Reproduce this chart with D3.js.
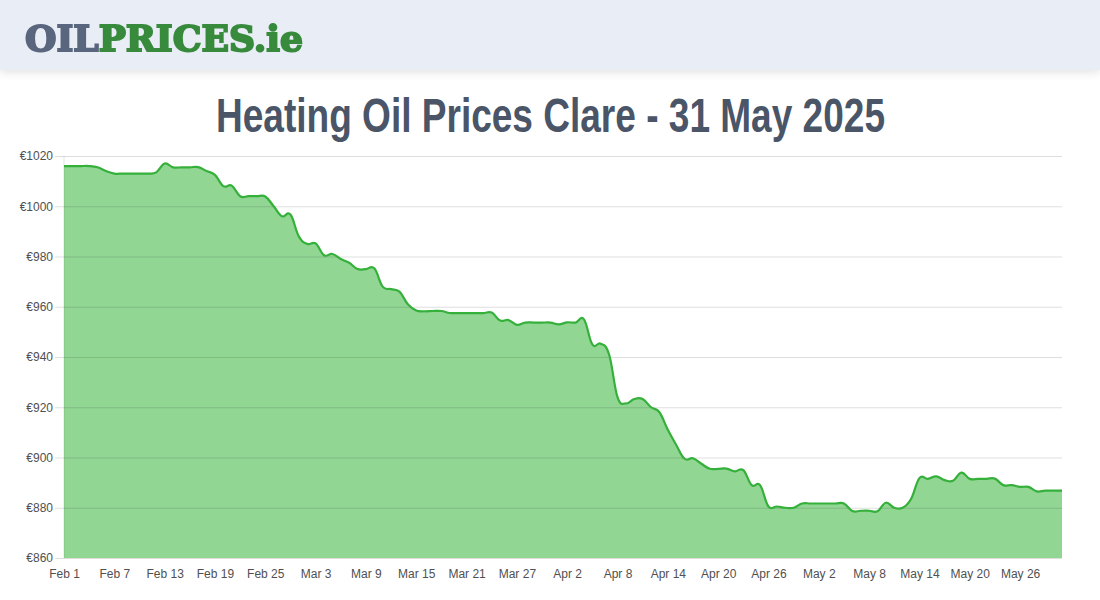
<!DOCTYPE html>
<html><head><meta charset="utf-8">
<script src="https://cdnjs.cloudflare.com/ajax/libs/d3/7.8.5/d3.min.js"></script>
<style>
html,body{margin:0;padding:0;background:#fff;overflow:hidden}
svg{display:block}
</style></head><body>
<svg id="c" width="1100" height="600"></svg>
<script>
const titleText = "Heating Oil Prices Clare - 31 May 2025";
const logoParts = ["OIL", "PRICES", ".ie"];
const yTicks = [860, 880, 900, 920, 940, 960, 980, 1000, 1020];
const xTickLabels = ["Feb 1","Feb 7","Feb 13","Feb 19","Feb 25","Mar 3","Mar 9","Mar 15","Mar 21","Mar 27","Apr 2","Apr 8","Apr 14","Apr 20","Apr 26","May 2","May 8","May 14","May 20","May 26"];
const xTickStepDays = 6;
const prices = [
 1016,1016,1016,1016,1015.5,1014,1013,1013,1013,1013,
 1013,1013.5,1017,1015.5,1015.5,1015.5,1015.6,1014,1012.5,1008,
 1008.2,1004,1004,1004,1003.9,1000,996,996.7,988,985,
 985.2,980.5,981,979,977.5,975,975,975.3,968,967,
 966,961,958.5,958.2,958.3,958.3,957.5,957.5,957.5,957.5,
 957.5,957.7,954.5,954.7,952.8,953.7,953.7,953.7,953.7,953,
 953.8,953.7,955,945,945.3,941,924,921.5,923.3,923.3,
 920,918,911,905,899.5,899.7,897.5,895.5,895.5,895.6,
 894.5,895,889,889,880.5,880.5,880,880,881.7,881.7,
 881.7,881.7,881.7,881.7,878.7,878.8,878.8,878.6,882,880,
 880,883.5,891.8,891.5,892.5,891,890.7,894,891.5,891.5,
 891.5,891.6,889,889,888.3,888.3,886.5,886.8,886.8,886.8
];

const svg = d3.select("#c");
const defs = svg.append("defs");
const shadow = defs.append("filter").attr("id","hs").attr("x","-5%").attr("y","-20%").attr("width","110%").attr("height","150%");
shadow.append("feDropShadow").attr("dx",0).attr("dy",3).attr("stdDeviation",4).attr("flood-color","#000").attr("flood-opacity",0.1);
const soft = defs.append("filter").attr("id","soft");
soft.append("feGaussianBlur").attr("stdDeviation",0.6);

svg.append("rect").attr("width",1100).attr("height",70).attr("fill","#e9edf5").attr("filter","url(#hs)");

const logo = svg.append("text").attr("x",25).attr("y",51)
  .attr("font-family","'DejaVu Serif'").attr("font-weight",700).attr("font-size",36)
  .attr("stroke-width",2).attr("filter","url(#soft)")
  .attr("textLength",278).attr("lengthAdjust","spacingAndGlyphs");
const logoColors = ["#5a667d","#378a3c","#378a3c"];
logo.selectAll("tspan").data(logoParts).join("tspan")
  .attr("fill",(d,i)=>logoColors[i]).attr("stroke",(d,i)=>logoColors[i]).text(d=>d);

svg.append("text").attr("x",550.5).attr("y",131.5).attr("text-anchor","middle")
  .attr("font-family","'Liberation Sans Narrow','Liberation Sans'").attr("font-weight",700).attr("font-size",49)
  .attr("fill","#4a5568")
  .attr("textLength",669).attr("lengthAdjust","spacingAndGlyphs").text(titleText);

const x = d3.scaleLinear().domain([0, prices.length-1]).range([64,1062]);
const y = d3.scaleLinear().domain([860,1020]).range([558,156]);

const curve = d3.curveCardinal.tension(-0.2);
svg.append("path").datum(prices)
  .attr("fill","#25ad2a").attr("fill-opacity",0.5)
  .attr("d",d3.area().x((d,i)=>x(i)).y0(y(860)).y1(d=>y(d)).curve(curve));

const gy = svg.append("g").attr("transform","translate(64,0)")
  .call(d3.axisLeft(y).tickValues(yTicks).tickFormat(d=>"€"+d).tickSize(-998).tickPadding(11));
gy.selectAll(".tick line").attr("stroke","#000").attr("stroke-opacity",0.13).attr("x1",-9);
gy.selectAll(".domain").attr("stroke","#000").attr("stroke-opacity",0.1).attr("d","M0,156V558");
gy.selectAll("text").attr("font-family","'Liberation Sans'").attr("font-size",12).attr("fill","#505050");

svg.append("path").datum(prices)
  .attr("fill","none").attr("stroke","#35b03b").attr("stroke-width",2.2)
  .attr("d",d3.line().x((d,i)=>x(i)).y(d=>y(d)).curve(curve));

const gx = svg.append("g").attr("transform","translate(0,558)")
  .call(d3.axisBottom(x).tickValues(xTickLabels.map((d,i)=>i*xTickStepDays)).tickFormat(d=>xTickLabels[d/xTickStepDays]).tickSize(0).tickPadding(11));
gx.selectAll(".domain").remove();
gx.selectAll("text").attr("font-family","'Liberation Sans'").attr("font-size",12).attr("fill","#505050");
</script>
</body></html>
